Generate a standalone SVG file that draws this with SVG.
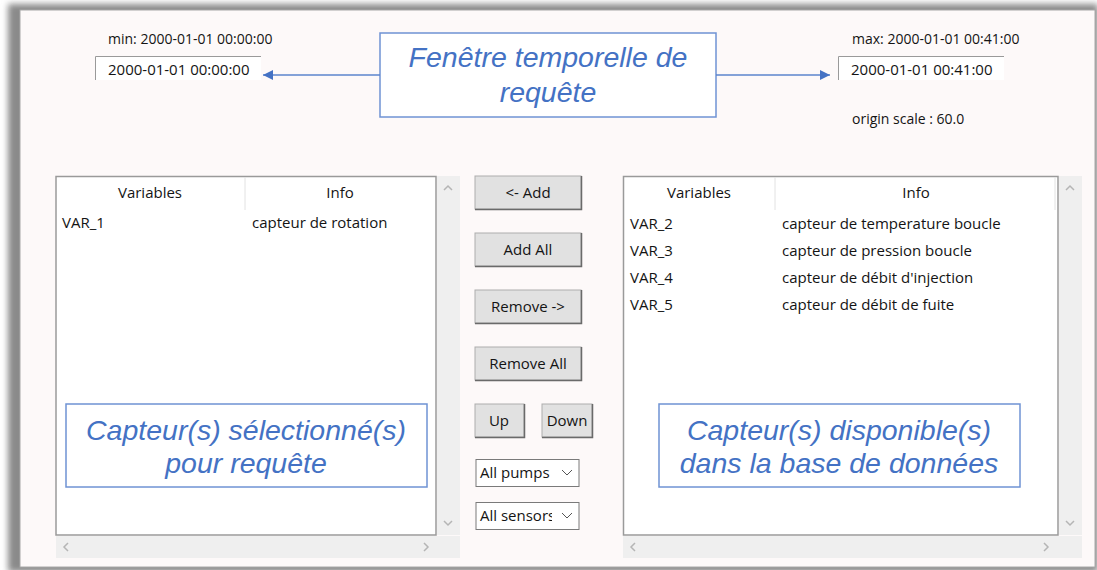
<svg xmlns="http://www.w3.org/2000/svg" width="1097" height="570" viewBox="0 0 1097 570">
<defs>
<filter id="sh" x="-5%" y="-5%" width="110%" height="110%"><feGaussianBlur stdDeviation="3"/></filter>
<marker id="ah" viewBox="0 0 10 10" refX="10" refY="5" markerWidth="10" markerHeight="10" markerUnits="userSpaceOnUse" orient="auto"><path d="M0,0 L10,5 L0,10 z" fill="#4472c4"/></marker>
</defs>
<style>
.ui{font-family:"Open Sans","Noto Sans","Liberation Sans",sans-serif;fill:#141414}
.sm{font-size:14px}
.md{font-size:15px}
.note{font-family:"Liberation Sans",Arial,sans-serif;font-style:italic;font-size:28.5px;fill:#4472c4}
.nbox{fill:#ffffff;stroke:#6f93d4;stroke-width:1.5}
.btn{fill:#e1e1e1;stroke:#adadad;stroke-width:1}
.btnsh{fill:none;stroke:#6a6a6a;stroke-width:1.5}
.list{fill:#ffffff;stroke:#9a9a9a;stroke-width:1.5}
.sb{fill:#efefef}
.chev{fill:none;stroke:#b5b5b5;stroke-width:1.5}
.tb{fill:#ffffff}
.tbb{fill:none;stroke:#9a9a9a;stroke-width:1}
.conn{stroke:#5b85cc;stroke-width:1.3;fill:none}
</style>
<rect x="0" y="0" width="1097" height="570" fill="#ffffff"/>
<rect x="8" y="4" width="1090" height="568" fill="#8a8a8a" filter="url(#sh)"/>
<rect x="20" y="10" width="1075" height="557" fill="#fdf9f9" stroke="#a8a8a8" stroke-width="1"/>

<g id="min-field">
<text class="ui sm" x="108" y="44">min: 2000-01-01 00:00:00</text>
<rect class="tb" x="95" y="56" width="166" height="24"/>
<path class="tbb" d="M95.5,80 V56.5 H261"/>
<text class="ui md" x="108" y="75">2000-01-01 00:00:00</text>
</g>

<g id="max-field">
<text class="ui sm" x="852" y="44">max: 2000-01-01 00:41:00</text>
<rect class="tb" x="838" y="56" width="166" height="24"/>
<path class="tbb" d="M838.5,80 V56.5 H1004"/>
<text class="ui md" x="851" y="75">2000-01-01 00:41:00</text>
<text class="ui sm" x="852" y="124">origin scale : 60.0</text>
</g>

<g id="time-window-note">
<rect class="nbox" x="380" y="33" width="336" height="84" fill="#fdf9f9"/>
<text class="note" x="548" y="67" text-anchor="middle">Fenêtre temporelle de</text>
<text class="note" x="548" y="102" text-anchor="middle">requête</text>
</g>

<g id="selected-list">
<rect class="list" x="56" y="176.5" width="380" height="358.5"/>
<line x1="245" y1="177" x2="245" y2="210" stroke="#e2e2e2" stroke-width="1"/>
<text class="ui md" x="150" y="198" text-anchor="middle">Variables</text>
<text class="ui md" x="340" y="198" text-anchor="middle">Info</text>
<text class="ui md" x="62" y="228">VAR_1</text>
<text class="ui md" x="252" y="228">capteur de rotation</text>
<rect class="sb" x="437" y="176" width="23" height="359"/>
<rect class="sb" x="56" y="536" width="404" height="22"/>
<path class="chev" d="M444,190 L448,186 L452,190"/>
<path class="chev" d="M444,521 L448,525 L452,521"/>
<path class="chev" d="M68,543 L64,547 L68,551"/>
<path class="chev" d="M424,543 L428,547 L424,551"/>
</g>

<g id="available-list">
<rect class="list" x="623.5" y="176.5" width="434.5" height="358.5"/>
<line x1="775" y1="177" x2="775" y2="210" stroke="#e2e2e2" stroke-width="1"/>
<line x1="1055" y1="177" x2="1055" y2="210" stroke="#e2e2e2" stroke-width="1"/>
<text class="ui md" x="699" y="198" text-anchor="middle">Variables</text>
<text class="ui md" x="916" y="198" text-anchor="middle">Info</text>
<text class="ui md" x="630" y="229">VAR_2</text>
<text class="ui md" x="782" y="229">capteur de temperature boucle</text>
<text class="ui md" x="630" y="256">VAR_3</text>
<text class="ui md" x="782" y="256">capteur de pression boucle</text>
<text class="ui md" x="630" y="283">VAR_4</text>
<text class="ui md" x="782" y="283">capteur de débit d'injection</text>
<text class="ui md" x="630" y="310">VAR_5</text>
<text class="ui md" x="782" y="310">capteur de débit de fuite</text>
<rect class="sb" x="1059" y="176" width="23" height="359"/>
<rect class="sb" x="623" y="536" width="459" height="22"/>
<path class="chev" d="M1066,190 L1070,186 L1074,190"/>
<path class="chev" d="M1066,521 L1070,525 L1074,521"/>
<path class="chev" d="M635,543 L631,547 L635,551"/>
<path class="chev" d="M1044,543 L1048,547 L1044,551"/>
</g>

<g id="btn-add">
<rect class="btn" x="475" y="176" width="106" height="33"/>
<path class="btnsh" d="M475,209.5 H581.5 V176"/>
<text class="ui md" x="528" y="198" text-anchor="middle">&lt;- Add</text>
</g>
<g id="btn-add-all">
<rect class="btn" x="475" y="233" width="106" height="33"/>
<path class="btnsh" d="M475,266.5 H581.5 V233"/>
<text class="ui md" x="528" y="255" text-anchor="middle">Add All</text>
</g>
<g id="btn-remove">
<rect class="btn" x="475" y="290" width="106" height="33"/>
<path class="btnsh" d="M475,323.5 H581.5 V290"/>
<text class="ui md" x="528" y="312" text-anchor="middle">Remove -&gt;</text>
</g>
<g id="btn-remove-all">
<rect class="btn" x="475" y="347" width="106" height="33"/>
<path class="btnsh" d="M475,380.5 H581.5 V347"/>
<text class="ui md" x="528" y="369" text-anchor="middle">Remove All</text>
</g>
<g id="btn-up">
<rect class="btn" x="475" y="404" width="49" height="33"/>
<path class="btnsh" d="M475,437.5 H524.5 V404"/>
<text class="ui md" x="499" y="426" text-anchor="middle">Up</text>
</g>
<g id="btn-down">
<rect class="btn" x="542" y="404" width="50" height="33"/>
<path class="btnsh" d="M542,437.5 H592.5 V404"/>
<text class="ui md" x="567" y="426" text-anchor="middle">Down</text>
</g>
<g id="dd-pumps">
<rect x="476" y="459.5" width="103" height="27" fill="#ffffff" stroke="#7a7a7a" stroke-width="1"/>
<text class="ui md" x="480" y="478">All pumps</text>
<path d="M562,470 L567,475 L572,470" fill="none" stroke="#555" stroke-width="1"/>
</g>
<g id="dd-sensors">
<rect x="476" y="502.5" width="103" height="27" fill="#ffffff" stroke="#7a7a7a" stroke-width="1"/>
<svg x="476" y="502" width="76" height="28" overflow="hidden"><text class="ui md" x="4" y="19">All sensors</text></svg>
<path d="M562,513 L567,518 L572,513" fill="none" stroke="#555" stroke-width="1"/>
</g>

<g id="selected-note">
<rect class="nbox" x="66" y="404" width="361" height="83"/>
<text class="note" x="246" y="440" text-anchor="middle">Capteur(s) sélectionné(s)</text>
<text class="note" x="246" y="473" text-anchor="middle">pour requête</text>
</g>
<g id="available-note">
<rect class="nbox" x="659" y="404" width="361" height="83"/>
<text class="note" x="839" y="440" text-anchor="middle">Capteur(s) disponible(s)</text>
<text class="note" x="839" y="473" text-anchor="middle">dans la base de données</text>
</g>

<g id="connectors">
<line class="conn" x1="380" y1="75" x2="263" y2="75" marker-end="url(#ah)"/>
<line class="conn" x1="716" y1="75" x2="830" y2="75" marker-end="url(#ah)"/>
</g>
</svg>
